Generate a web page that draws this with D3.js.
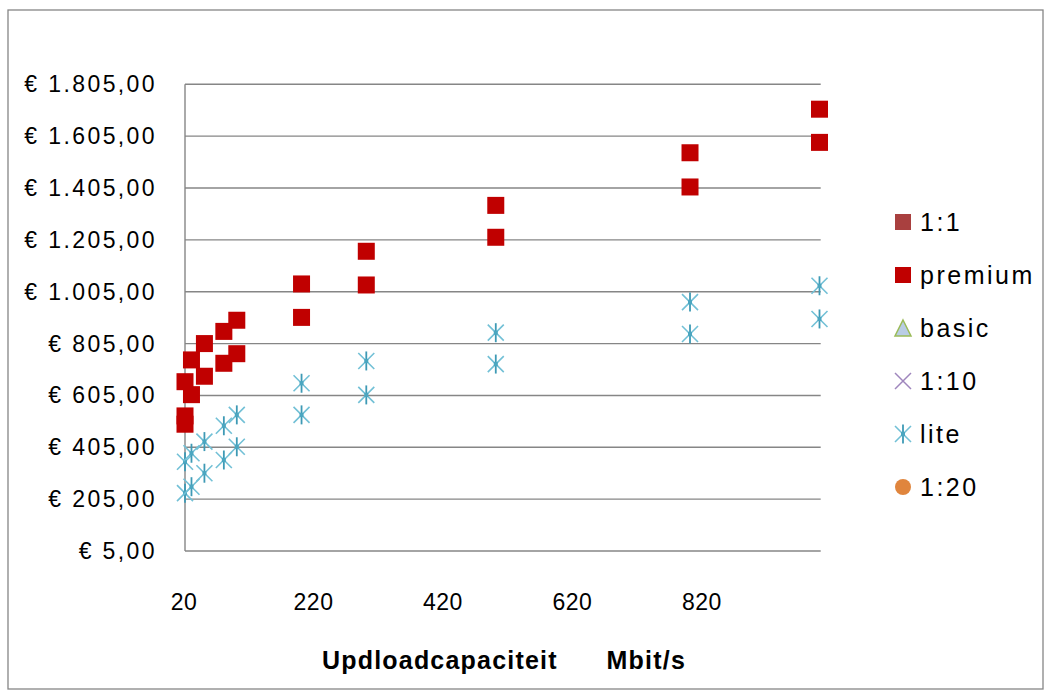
<!DOCTYPE html>
<html>
<head>
<meta charset="utf-8">
<script src="https://cdn.jsdelivr.net/npm/d3@7"></script>
<style>
  html, body { margin: 0; padding: 0; background: #fff; }
  svg text { font-family: "Liberation Sans", Arial, sans-serif; fill: #000; }
</style>
</head>
<body>
<svg id="chart" width="1050" height="695"></svg>
<script>
// ---- data ----
const xTicks = [20, 220, 420, 620, 820];
const yTicks = [5, 205, 405, 605, 805, 1005, 1205, 1405, 1605, 1805];

const premiumX = [20, 20, 20, 30, 30, 50, 50, 80, 80, 100, 100, 200, 200, 300, 300, 500, 500, 800, 800, 1000, 1000];
const premiumY = [658, 526, 494, 742, 608, 805, 679, 852, 729, 895, 766, 1035, 906, 1161, 1031, 1338, 1215, 1541, 1409, 1709, 1581];

const liteX = [20, 20, 30, 30, 50, 50, 80, 80, 100, 100, 200, 200, 300, 300, 500, 500, 800, 800, 1000, 1000];
const liteY = [349, 228, 382, 253, 427, 305, 488, 356, 530, 407, 652, 530, 738, 607, 847, 726, 965, 842, 1028, 900];

const legendNames = ["1:1", "premium", "basic", "1:10", "lite", "1:20"];
const xTitle = "Updloadcapaciteit      Mbit/s";

// ---- layout ----
const svg = d3.select("#chart");
const x = d3.scaleLinear().domain([20, 1000]).range([185, 819.5]);
const y = d3.scaleLinear().domain([5, 1805]).range([551, 84.3]);

const nl = d3.formatLocale({ decimal: ",", thousands: ".", grouping: [3], currency: ["€ ", ""] });
const fmt = nl.format("$,.2f");

// outer border
svg.append("rect").attr("x", 8).attr("y", 10).attr("width", 1035).attr("height", 679)
  .attr("fill", "none").attr("stroke", "#868686").attr("stroke-width", 1.3);

// gridlines
svg.append("g").selectAll("line").data(yTicks).join("line")
  .attr("x1", x(20)).attr("x2", x(1000) + 1.2)
  .attr("y1", d => y(d)).attr("y2", d => y(d))
  .attr("stroke", "#868686").attr("stroke-width", 1.4);

// vertical axis line
svg.append("line").attr("x1", x(20)).attr("x2", x(20))
  .attr("y1", y(1805)).attr("y2", y(5))
  .attr("stroke", "#868686").attr("stroke-width", 1.4);

// y labels
svg.append("g").selectAll("text").data(yTicks).join("text")
  .attr("x", 157).attr("y", d => y(d)).attr("dy", "0.35em")
  .attr("text-anchor", "end").attr("font-size", 23).attr("letter-spacing", 2.4)
  .text(d => fmt(d));

// x labels
svg.append("g").selectAll("text").data(xTicks).join("text")
  .attr("x", d => x(d) - 1).attr("y", 602).attr("dy", "0.35em")
  .attr("text-anchor", "middle").attr("font-size", 23).attr("letter-spacing", 0.5)
  .text(d => d);

// x title
svg.append("text").attr("x", 504).attr("y", 660).attr("dy", "0.35em")
  .attr("text-anchor", "middle").attr("font-size", 25).attr("font-weight", "bold")
  .attr("letter-spacing", 1.2)
  .attr("xml:space", "preserve").style("white-space", "pre")
  .text(xTitle);

// marker shapes
function drawStar(g, cx, cy) {
  g.append("path").attr("transform", `translate(${cx},${cy})`)
    .attr("d", "M-8,-8L8,8M-8,8L8,-8").attr("stroke", "#72C0D6").attr("stroke-width", 1.6).attr("fill", "none");
  g.append("path").attr("transform", `translate(${cx},${cy})`)
    .attr("d", "M0,-9.5V9.5").attr("stroke", "#3E9AB5").attr("stroke-width", 1.8).attr("fill", "none");
  g.append("rect").attr("x", cx - 2).attr("y", cy - 2).attr("width", 4).attr("height", 4).attr("fill", "#4BA6C0");
}

// lite series
const liteG = svg.append("g");
liteX.forEach((d, i) => drawStar(liteG, x(d), y(liteY[i])));

// premium series
const sq = 17;
svg.append("g").selectAll("rect").data(premiumX.map((d, i) => [d, premiumY[i]])).join("rect")
  .attr("x", d => x(d[0]) - sq / 2).attr("y", d => y(d[1]) - sq / 2)
  .attr("width", sq).attr("height", sq).attr("fill", "#C00000");

// legend
const lgY = d3.scalePoint().domain(legendNames).range([222, 487]);
const lg = svg.append("g");
const mx = 903;
legendNames.forEach(n => {
  const cy = lgY(n);
  if (n === "1:1") {
    lg.append("rect").attr("x", mx - 8).attr("y", cy - 8).attr("width", 16).attr("height", 16).attr("fill", "#A9403F");
  } else if (n === "premium") {
    lg.append("rect").attr("x", mx - 8).attr("y", cy - 8).attr("width", 16).attr("height", 16).attr("fill", "#C00000");
  } else if (n === "basic") {
    lg.append("path").attr("d", `M${mx},${cy - 8}L${mx + 8},${cy + 8}L${mx - 8},${cy + 8}Z`)
      .attr("fill", "#B9CDE5").attr("stroke", "#9BBB59").attr("stroke-width", 1.5);
  } else if (n === "1:10") {
    lg.append("path").attr("d", `M${mx - 8},${cy - 8}L${mx + 8},${cy + 8}M${mx - 8},${cy + 8}L${mx + 8},${cy - 8}`)
      .attr("stroke", "#9F86BD").attr("stroke-width", 1.5);
  } else if (n === "lite") {
    drawStar(lg, mx, cy);
  } else {
    lg.append("circle").attr("cx", mx).attr("cy", cy).attr("r", 8).attr("fill", "#E0853D");
  }
  lg.append("text").attr("x", 920).attr("y", cy).attr("dy", "0.35em")
    .attr("font-size", 25).attr("letter-spacing", 2.5).text(n);
});
</script>
</body>
</html>
